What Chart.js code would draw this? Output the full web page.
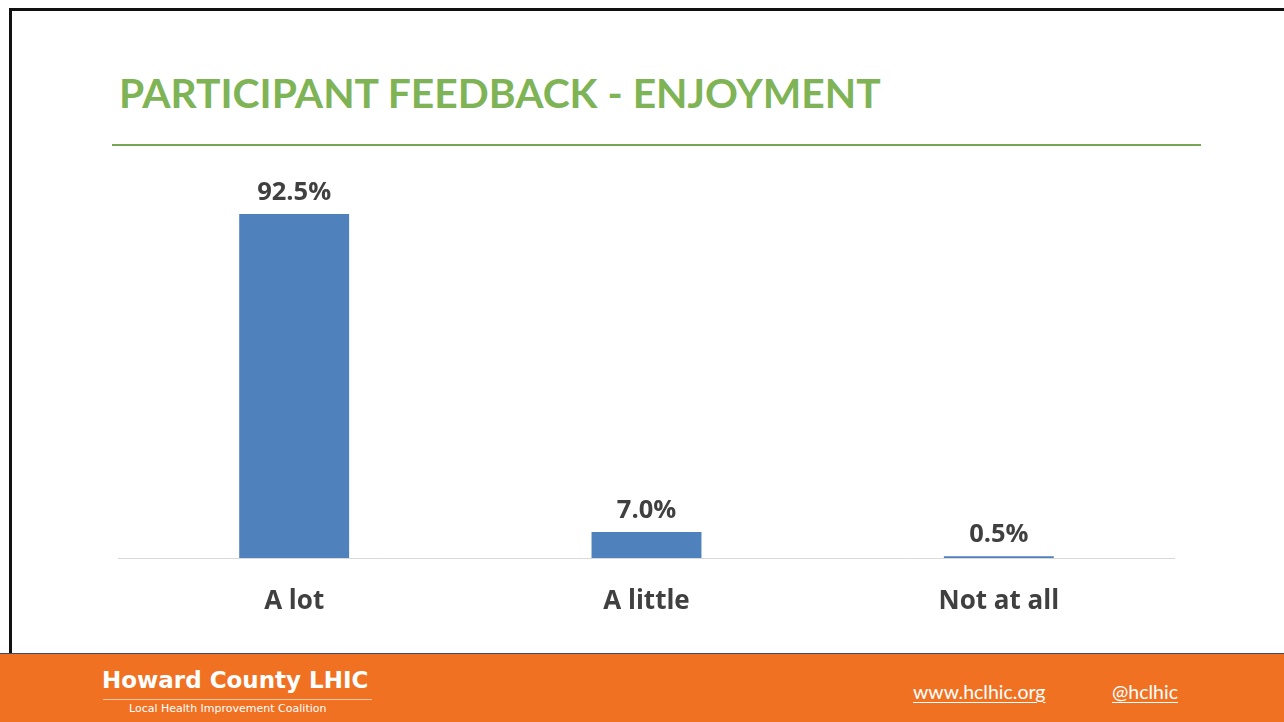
<!DOCTYPE html>
<html>
<head>
<meta charset="utf-8">
<script src="https://cdn.jsdelivr.net/npm/chart.js"></script>
<style>
  html, body { margin: 0; padding: 0; background: #fff; }
  body { width: 1284px; height: 722px; position: relative; overflow: hidden; font-family: Lato, "Open Sans", sans-serif; }
  .frameTop { position: absolute; left: 9px; top: 8px; width: 1275px; height: 3px; background: #111; }
  .frameLeft { position: absolute; left: 9px; top: 8px; width: 3px; height: 645px; background: #111; }
  .title { position: absolute; left: 119px; top: 68px; font-size: 40.8px; font-weight: bold; color: #7EB356; white-space: nowrap; }
  .rule { position: absolute; left: 112px; top: 144px; width: 1089px; height: 2px; background: #76A654; }
  .footer { position: absolute; left: 0; top: 653px; width: 1284px; height: 69px; background: #F07122; border-top: 1px solid #3b4a6b; box-sizing: border-box; }
  .brand { position: absolute; left: 102px; top: 667px; color: #fff; font-family: "DejaVu Sans", sans-serif; font-weight: bold; font-size: 23px; white-space: nowrap; }
  .brandRule { position: absolute; left: 103px; top: 699px; width: 269px; height: 1px; background: #f8c6a3; }
  .brandSub { position: absolute; left: 129px; top: 702px; color: #fff; font-family: "DejaVu Sans", sans-serif; font-size: 11px; white-space: nowrap; }
  .link { position: absolute; top: 680px; color: #fff; font-size: 19.5px; text-decoration: underline; text-underline-offset: 3px; white-space: nowrap; }
  #chartBox { position: absolute; left: 118px; top: 156px; width: 1057px; height: 500px; }
</style>
</head>
<body>
<div class="frameTop"></div>
<div class="frameLeft"></div>
<div class="title">PARTICIPANT FEEDBACK - ENJOYMENT</div>
<div class="rule"></div>
<div id="chartBox"><canvas id="chartEnjoyment" width="1057" height="500"></canvas></div>
<div class="footer"></div>
<div class="brand">Howard County LHIC</div>
<div class="brandRule"></div>
<div class="brandSub">Local Health Improvement Coalition</div>
<div class="link" style="left:913px;">www.hclhic.org</div>
<div class="link" style="left:1112px;">@hclhic</div>
<script>
const categories = ['A lot', 'A little', 'Not at all'];
const enjoyment = [92.5, 7.0, 0.5];
const yMax = 100;

const labelFont = '"Open Sans", Lato, sans-serif';

// value labels above each bar
const valueLabels = {
  id: 'valueLabels',
  afterDatasetsDraw(chart) {
    const ctx = chart.ctx;
    const meta = chart.getDatasetMeta(0);
    ctx.save();
    ctx.font = 'bold 25.5px ' + labelFont;
    ctx.fillStyle = '#404040';
    ctx.textAlign = 'center';
    ctx.textBaseline = 'middle';
    meta.data.forEach((bar, i) => {
      ctx.fillText(enjoyment[i].toFixed(1) + '%', bar.x, bar.y - 21);
    });
    ctx.restore();
  }
};

new Chart(document.getElementById('chartEnjoyment'), {
  type: 'bar',
  data: {
    labels: categories,
    datasets: [{
      data: enjoyment,
      backgroundColor: '#4F81BD',
      barPercentage: 0.312,
      categoryPercentage: 1,
    }],
  },
  options: {
    responsive: false,
    animation: false,
    layout: { padding: { top: 30 } },
    plugins: {
      legend: { display: false },
      tooltip: { enabled: false },
    },
    scales: {
      x: {
        grid: { display: false, drawTicks: false },
        border: { color: '#d9d9d9', width: 1 },
        ticks: {
          color: '#404040',
          padding: 28,
          font: { size: 26, weight: 'bold', family: labelFont },
        },
        afterFit(scale) { scale.height = 500 - 30 - 372; },
      },
      y: {
        display: false,
        min: 0,
        max: yMax,
      },
    },
  },
  plugins: [valueLabels],
});
</script>
</body>
</html>
